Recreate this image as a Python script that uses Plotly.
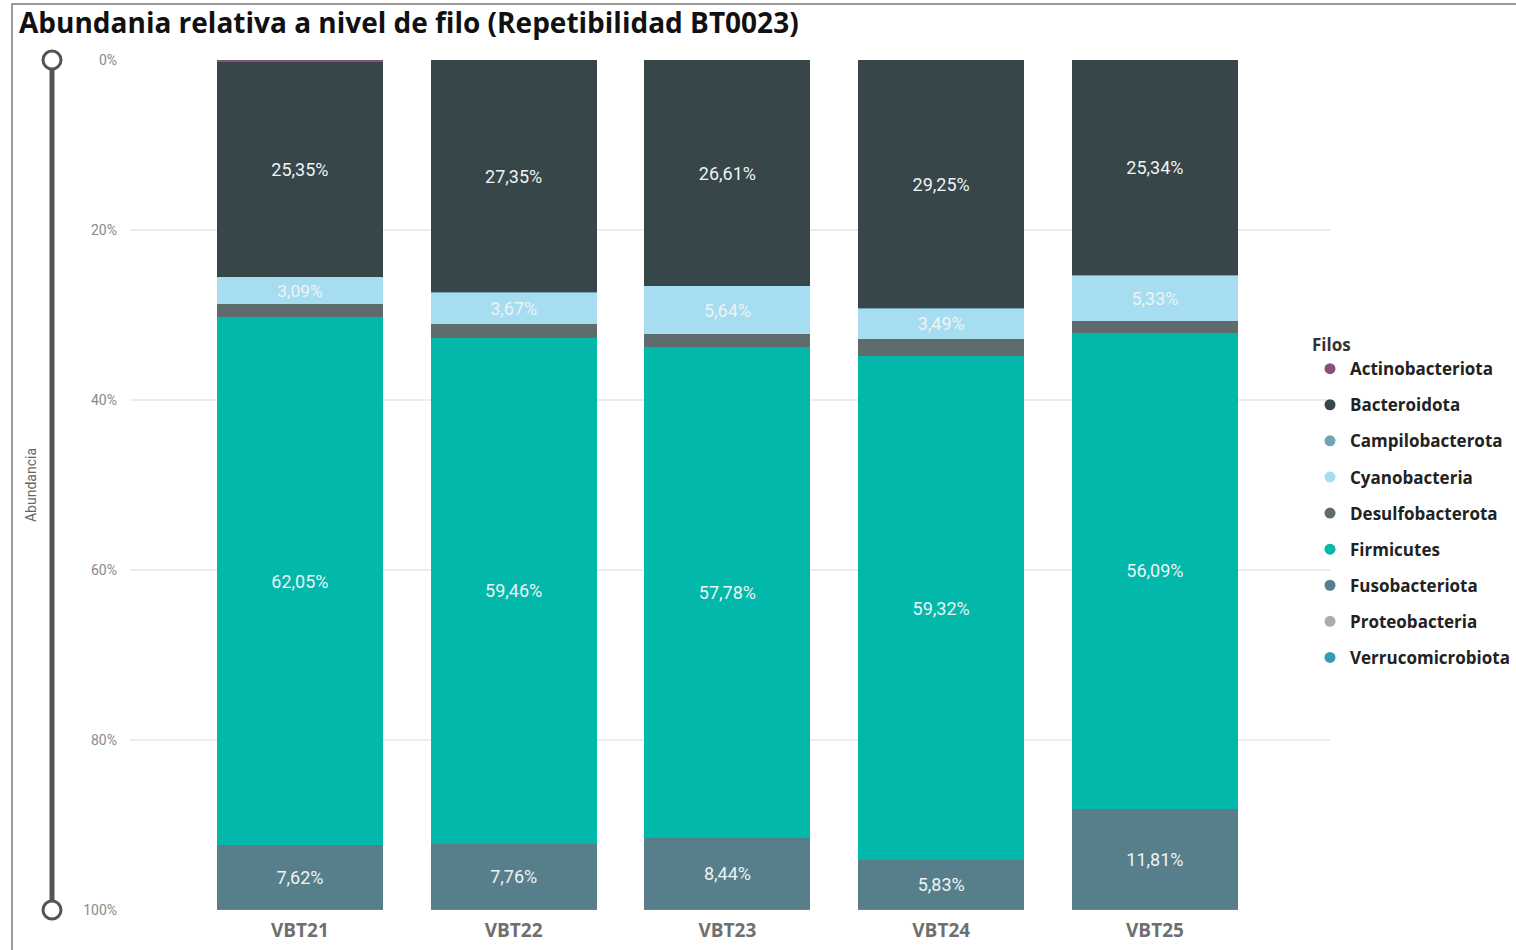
import plotly.graph_objects as go

# Samples and relative abundance (%) per phylum
samples = ["VBT21", "VBT22", "VBT23", "VBT24", "VBT25"]

actinobacteriota = [0.20, 0.01, 0.01, 0.01, 0.01]
bacteroidota = [25.35, 27.35, 26.61, 29.25, 25.34]
campilobacterota = [0.02, 0.02, 0.01, 0.02, 0.01]
cyanobacteria = [3.09, 3.67, 5.64, 3.49, 5.33]
desulfobacterota = [1.61, 1.69, 1.48, 2.05, 1.38]
firmicutes = [62.05, 59.46, 57.78, 59.32, 56.09]
fusobacteriota = [7.62, 7.76, 8.44, 5.83, 11.81]
proteobacteria = [0.04, 0.03, 0.02, 0.02, 0.02]
verrucomicrobiota = [0.02, 0.01, 0.01, 0.01, 0.01]

phyla = [
    ("Actinobacteriota", actinobacteriota, "#8A4F7D"),
    ("Bacteroidota", bacteroidota, "#374649"),
    ("Campilobacterota", campilobacterota, "#6FA3B5"),
    ("Cyanobacteria", cyanobacteria, "#A6DDF0"),
    ("Desulfobacterota", desulfobacterota, "#5F6B6D"),
    ("Firmicutes", firmicutes, "#01B8AA"),
    ("Fusobacteriota", fusobacteriota, "#577F8B"),
    ("Proteobacteria", proteobacteria, "#A9ACAD"),
    ("Verrucomicrobiota", verrucomicrobiota, "#3599B8"),
]

y_ticks = [0, 20, 40, 60, 80, 100]
y_tick_labels = ["0%", "20%", "40%", "60%", "80%", "100%"]


def pct_label(v):
    return (f"{v:.2f}".replace(".", ",") + "%") if v >= 3 else ""


fig = go.Figure()
for name, vals, color in phyla:
    fig.add_trace(go.Bar(
        x=samples, y=vals, name=name, showlegend=False,
        marker=dict(color=color, line=dict(width=0)),
        text=[pct_label(v) for v in vals],
        textposition="inside", insidetextanchor="middle", textangle=0,
        textfont=dict(family="Roboto", size=18, color="#EEF3F4"),
        width=0.777, hoverinfo="name+y",
    ))
    # round legend markers
    fig.add_trace(go.Scatter(
        x=[None], y=[None], mode="markers", name=name,
        marker=dict(color=color, size=11, symbol="circle"),
        legendgroup=name,
    ))

# y-axis range slider decoration on the left
slider_x = (52 - 130) / 1200
shapes = [
    dict(type="line", xref="paper", yref="paper", x0=slider_x, x1=slider_x,
         y0=0, y1=1, line=dict(color="#555555", width=5), layer="above"),
]
for yp in (0, 1):
    shapes.append(dict(type="circle", xref="paper", yref="paper", xsizemode="pixel",
                       ysizemode="pixel", xanchor=slider_x, yanchor=yp,
                       x0=-9, x1=9, y0=-9, y1=9,
                       fillcolor="white", line=dict(color="#555555", width=3),
                       layer="above"))
# visual frame
shapes.append(dict(type="rect", xref="paper", yref="paper",
                   x0=(12 - 130) / 1200, x1=(1540 - 130) / 1200,
                   y0=(910 - 970) / 850, y1=(910 - 4) / 850,
                   line=dict(color="#9A9A9A", width=2), fillcolor="rgba(0,0,0,0)"))

fig.update_layout(
    width=1516, height=950,
    margin=dict(l=130, r=186, t=60, b=40, autoexpand=False),
    paper_bgcolor="white", plot_bgcolor="white",
    barmode="stack", bargap=0.2,
    title=dict(text="<b>Abundania relativa a nivel de filo (Repetibilidad BT0023)</b>",
               x=19 / 1516, xref="container", xanchor="left",
               y=1 - 23 / 950, yref="container", yanchor="middle",
               font=dict(family="Open Sans", size=28, color="#111111")),
    xaxis=dict(range=[-0.795, 4.819], showgrid=False, zeroline=False,
               showline=False, ticks="", ticklabelstandoff=7,
               tickfont=dict(family="Open Sans", size=19, color="#6F6F6F", weight="bold")),
    yaxis=dict(range=[100, 0], tickmode="array", tickvals=y_ticks, ticktext=y_tick_labels,
               showgrid=True, gridcolor="#EDEDED", gridwidth=2, zeroline=False,
               showline=False, ticks="", ticklabelstandoff=12,
               tickfont=dict(family="Roboto", size=14, color="#8A8A8A"),
               title=dict(text="Abundancia", standoff=43,
                          font=dict(family="Roboto", size=14, color="#666666"))),
    legend=dict(x=(1310 - 130) / 1200, xanchor="left", y=(910 - 329) / 850, yanchor="top",
                title=dict(text="Filos", font=dict(family="Open Sans", size=17, color="#333333")),
                font=dict(family="Open Sans", size=17, color="#222222", weight="bold"),
                traceorder="grouped", tracegroupgap=11, itemwidth=30,
                bgcolor="rgba(0,0,0,0)"),
    shapes=shapes,
    showlegend=True,
)

fig.write_html("out.html")
